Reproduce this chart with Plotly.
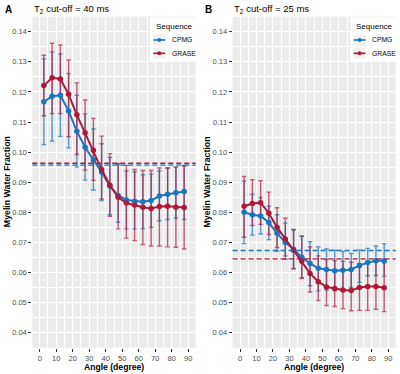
import plotly.graph_objects as go

# ---------------- data ----------------
angle = [2.5, 7.5, 12.5, 17.5, 22.5, 27.5, 32.5, 37.5, 42.5,
         47.5, 52.5, 57.5, 62.5, 67.5, 72.5, 77.5, 82.5, 87.5]

# Panel A: T2 cut-off = 40 ms
cpmg40 = [0.1167, 0.1186, 0.1189, 0.1137, 0.1069, 0.1016, 0.0974, 0.0934, 0.0887,
          0.0856, 0.0841, 0.0837, 0.0835, 0.0839, 0.0854, 0.0860, 0.0865, 0.0869]
cpmg40_hi = [0.1310, 0.1333, 0.1326, 0.1261, 0.1189, 0.1127, 0.1077, 0.1028, 0.0982,
             0.0959, 0.0937, 0.0934, 0.0925, 0.0927, 0.0937, 0.0947, 0.0950, 0.0956]
cpmg40_lo = [0.1025, 0.1037, 0.1052, 0.1014, 0.0950, 0.0907, 0.0874, 0.0839, 0.0792,
             0.0767, 0.0745, 0.0745, 0.0746, 0.0750, 0.0772, 0.0776, 0.0780, 0.0776]
grase40 = [0.1221, 0.1247, 0.1243, 0.1192, 0.1124, 0.1064, 0.1006, 0.0942, 0.0890,
           0.0850, 0.0831, 0.0824, 0.0817, 0.0813, 0.0819, 0.0820, 0.0817, 0.0816]
grase40_hi = [0.1322, 0.1362, 0.1356, 0.1306, 0.1230, 0.1173, 0.1112, 0.1053, 0.0995,
              0.0962, 0.0956, 0.0942, 0.0939, 0.0939, 0.0947, 0.0947, 0.0950, 0.0954]
grase40_lo = [0.1121, 0.1128, 0.1128, 0.1051, 0.0992, 0.0940, 0.0906, 0.0844, 0.0787,
              0.0745, 0.0714, 0.0706, 0.0693, 0.0688, 0.0688, 0.0685, 0.0684, 0.0678]
cpmg40_mean = 0.0957
grase40_mean = 0.0963

# Panel B: T2 cut-off = 25 ms
cpmg25 = [0.0800, 0.0792, 0.0788, 0.0766, 0.0730, 0.0700, 0.0677, 0.0651, 0.0630,
          0.0614, 0.0610, 0.0606, 0.0607, 0.0610, 0.0623, 0.0633, 0.0639, 0.0639]
cpmg25_hi = [0.0904, 0.0860, 0.0849, 0.0820, 0.0792, 0.0764, 0.0741, 0.0720, 0.0702,
             0.0685, 0.0678, 0.0674, 0.0670, 0.0663, 0.0675, 0.0680, 0.0688, 0.0696]
cpmg25_lo = [0.0696, 0.0724, 0.0728, 0.0709, 0.0670, 0.0655, 0.0613, 0.0583, 0.0556,
             0.0539, 0.0542, 0.0539, 0.0544, 0.0550, 0.0567, 0.0589, 0.0590, 0.0588]
grase25 = [0.0820, 0.0829, 0.0832, 0.0797, 0.0750, 0.0711, 0.0674, 0.0637, 0.0597,
           0.0569, 0.0552, 0.0547, 0.0542, 0.0540, 0.0550, 0.0553, 0.0553, 0.0549]
grase25_hi = [0.0919, 0.0908, 0.0905, 0.0867, 0.0815, 0.0780, 0.0743, 0.0721, 0.0685,
              0.0655, 0.0643, 0.0640, 0.0637, 0.0634, 0.0630, 0.0634, 0.0634, 0.0632]
grase25_lo = [0.0717, 0.0756, 0.0760, 0.0726, 0.0683, 0.0644, 0.0612, 0.0580, 0.0535,
              0.0507, 0.0490, 0.0487, 0.0480, 0.0473, 0.0474, 0.0474, 0.0478, 0.0470]
cpmg25_mean = 0.0673
grase25_mean = 0.0645

panel_titles = ["T<sub>2</sub> cut-off = 40 ms", "T<sub>2</sub> cut-off = 25 ms"]
panel_tags = ["A", "B"]
series_names = ["CPMG", "GRASE"]
x_ticks = [0, 10, 20, 30, 40, 50, 60, 70, 80, 90]
y_ticks = [0.04, 0.05, 0.06, 0.07, 0.08, 0.09, 0.10, 0.11, 0.12, 0.13, 0.14]
y_ticklabels = ["0.04", "0.05", "0.06", "0.07", "0.08", "0.09", "0.10", "0.11", "0.12", "0.13", "0.14"]

# ---------------- style ----------------
BLUE = "rgb(27,117,190)"
RED = "rgb(176,24,56)"
BLUE_A = "rgba(27,117,190,0.72)"
RED_A = "rgba(176,24,56,0.68)"
FONT = "Liberation Sans, Arial, sans-serif"
W, H = 400, 374

def px(x):
    return x / W

def py(y):
    return 1 - y / H

# panel pixel geometry
panels = [(32.3, 195.7), (232.6, 395.7)]
ptop, pbot = 16.7, 347.7

fig = go.Figure()

datasets = [
    (cpmg40, cpmg40_hi, cpmg40_lo, grase40, grase40_hi, grase40_lo, cpmg40_mean, grase40_mean),
    (cpmg25, cpmg25_hi, cpmg25_lo, grase25, grase25_hi, grase25_lo, cpmg25_mean, grase25_mean),
]

for i, (c, chi, clo, g, ghi, glo, cm, gm) in enumerate(datasets):
    xa = "x" if i == 0 else "x2"
    ya = "y" if i == 0 else "y2"
    # error bars first
    for vals, hi, lo, col in [(c, chi, clo, BLUE_A), (g, ghi, glo, RED_A)]:
        fig.add_trace(go.Scatter(
            x=angle, y=vals, mode="markers", xaxis=xa, yaxis=ya,
            marker=dict(size=1, opacity=0), showlegend=False, hoverinfo="skip",
            error_y=dict(type="data", symmetric=False,
                         array=[h - v for h, v in zip(hi, vals)],
                         arrayminus=[v - l for v, l in zip(vals, lo)],
                         color=col, thickness=1.4, width=2.2)))
    # lines + points
    for vals, col, name in [(c, BLUE, series_names[0]), (g, RED, series_names[1])]:
        fig.add_trace(go.Scatter(
            x=angle, y=vals, mode="lines+markers", xaxis=xa, yaxis=ya, name=name,
            line=dict(color=col, width=2),
            marker=dict(color=col, size=5.5, symbol="circle"),
            showlegend=False))
    # dashed reference lines
    for val, col in [(cm, BLUE), (gm, RED)]:
        fig.add_shape(type="line", xref=f"{xa} domain", x0=0, x1=1, yref=ya, y0=val, y1=val,
                      line=dict(color=col, width=1.3, dash="5px,3px"))

axis_common = dict(
    showgrid=True, gridcolor="white", gridwidth=1,
    zeroline=False, showline=False,
    ticks="outside", ticklen=3, tickwidth=0.8, tickcolor="#333333",
    tickfont=dict(family=FONT, size=7.5, color="#4D4D4D"),
    automargin=False,
)

for i, (l, r) in enumerate(panels):
    sfx = "" if i == 0 else "2"
    fig.update_layout(**{
        f"xaxis{sfx}": dict(
            domain=[px(l), px(r)], range=[-4.5, 94.5], anchor=f"y{sfx}",
            tickmode="array", tickvals=x_ticks,
            minor=dict(showgrid=True, gridcolor="white", gridwidth=0.5, dtick=5, tick0=5),
            **axis_common),
        f"yaxis{sfx}": dict(
            domain=[py(pbot), py(ptop)], range=[0.035, 0.145], anchor=f"x{sfx}",
            tickmode="array", tickvals=y_ticks, ticktext=y_ticklabels,
            minor=dict(showgrid=True, gridcolor="white", gridwidth=0.5, dtick=0.005, tick0=0.035),
            **axis_common),
    })

annotations = []
shapes_extra = []
for i, (l, r) in enumerate(panels):
    off = 0 if i == 0 else 200.3
    # tag and title
    annotations.append(dict(text=f"<b>{panel_tags[i]}</b>", x=px(3 + off), y=py(10), xref="paper", yref="paper",
                            xanchor="left", yanchor="middle", showarrow=False,
                            font=dict(family=FONT, size=10, color="black")))
    annotations.append(dict(text=panel_titles[i], x=px(32 + off), y=py(9.5), xref="paper", yref="paper",
                            xanchor="left", yanchor="middle", showarrow=False,
                            font=dict(family=FONT, size=9.5, color="black")))
    # axis titles
    annotations.append(dict(text="<b>Angle (degree)</b>", x=px((l + r) / 2), y=py(366.5), xref="paper", yref="paper",
                            xanchor="center", yanchor="middle", showarrow=False,
                            font=dict(family=FONT, size=8.6, color="black")))
    annotations.append(dict(text="<b>Myelin Water Fraction</b>", x=px(7 + off), y=py((ptop + pbot) / 2),
                            xref="paper", yref="paper", xanchor="center", yanchor="middle", showarrow=False,
                            textangle=-90, font=dict(family=FONT, size=8.8, color="black")))
    # manual legend
    lx0, ly0, lx1, ly1 = 150 + off, 17.5, 197 + off, 62
    shapes_extra.append(dict(type="rect", xref="paper", yref="paper", x0=px(lx0), x1=px(lx1),
                             y0=py(ly1), y1=py(ly0), fillcolor="white", line=dict(width=0), layer="above"))
    annotations.append(dict(text="Sequence", x=px(153.5 + off), y=py(26.5), xref="paper", yref="paper",
                            xanchor="left", yanchor="middle", showarrow=False,
                            font=dict(family=FONT, size=8, color="black")))
    for j, (name, col) in enumerate(zip(series_names, [BLUE, RED])):
        yy = 40 + j * 13.3
        shapes_extra.append(dict(type="rect", xref="paper", yref="paper", x0=px(152.5 + off), x1=px(166 + off),
                                 y0=py(yy + 6.3), y1=py(yy - 6.3), fillcolor="#F2F2F2",
                                 line=dict(width=0.6, color="white"), layer="above"))
        shapes_extra.append(dict(type="line", xref="paper", yref="paper", x0=px(153.3 + off), x1=px(165.2 + off),
                                 y0=py(yy), y1=py(yy), line=dict(color=col, width=1.6), layer="above"))
        shapes_extra.append(dict(type="circle", xref="paper", yref="paper", x0=px(157.3 + off), x1=px(161.3 + off),
                                 y0=py(yy + 2), y1=py(yy - 2), fillcolor=col, line=dict(width=0), layer="above"))
        annotations.append(dict(text=name, x=px(169.5 + off), y=py(yy), xref="paper", yref="paper",
                                xanchor="left", yanchor="middle", showarrow=False,
                                font=dict(family=FONT, size=6.8, color="black")))

for s in shapes_extra:
    fig.add_shape(**s)

fig.update_layout(
    width=W, height=H,
    margin=dict(l=0, r=0, t=0, b=0),
    paper_bgcolor="white",
    plot_bgcolor="#EBEBEB",
    showlegend=False,
    annotations=annotations,
    font=dict(family=FONT),
)

fig.write_html("out.html", config={"displayModeBar": False})

# remove the default browser body margin so the 400x374 figure fills the window exactly
with open("out.html", "r", encoding="utf-8") as f:
    html = f.read()
html = html.replace("<head>", "<head><style>html,body{margin:0;padding:0;overflow:hidden;}</style>", 1)
with open("out.html", "w", encoding="utf-8") as f:
    f.write(html)
